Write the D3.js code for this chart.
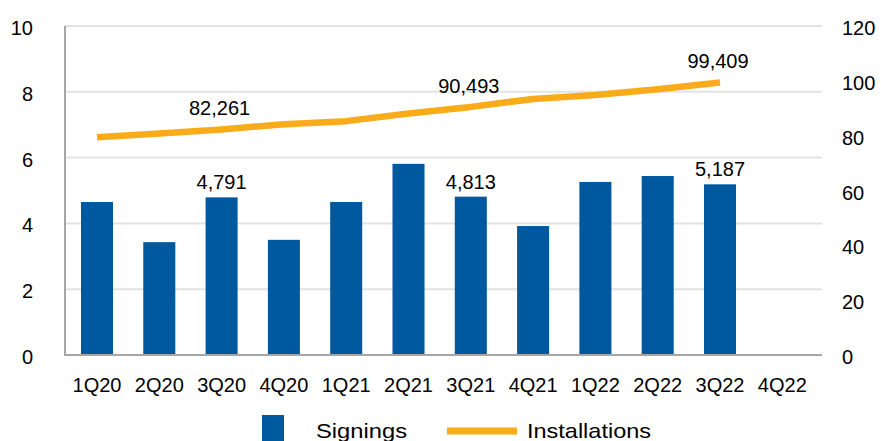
<!DOCTYPE html>
<html>
<head>
<meta charset="utf-8">
<script src="https://cdn.jsdelivr.net/npm/d3@7"></script>
<style>
  html, body { margin: 0; padding: 0; background: #fff; }
  svg { display: block; font-family: "Liberation Sans", Arial, sans-serif; }
</style>
</head>
<body>
<svg id="chart" width="881" height="441"></svg>
<script>
const categories = ["1Q20","2Q20","3Q20","4Q20","1Q21","2Q21","3Q21","4Q21","1Q22","2Q22","3Q22","4Q22"];
const signings = [4.65, 3.43, 4.791, 3.50, 4.65, 5.81, 4.813, 3.92, 5.26, 5.44, 5.187, null];
const installations = [79.4, 80.8, 82.261, 84.2, 85.3, 88.1, 90.493, 93.4, 94.8, 96.9, 99.409, null];
const leftTicks = [0, 2, 4, 6, 8, 10];
const rightTicks = [0, 20, 40, 60, 80, 100, 120];
const signingLabels = {"3Q20": "4,791", "3Q21": "4,813", "3Q22": "5,187"};
const installLabels = {"3Q20": "82,261", "3Q21": "90,493", "3Q22": "99,409"};
const seriesNames = ["Signings", "Installations"];

const svg = d3.select("#chart");
const blue = "#00589E", orange = "#FAAB1A";
const plotLeft = 65.85, plotRight = 813.45, gridRight = 822;
const yTop = 26, yBottom = 355;

const x = d3.scaleBand().domain(categories).range([plotLeft, plotRight])
  .paddingInner(0.486).paddingOuter(0.243);
const yL = d3.scaleLinear().domain([0, 10]).range([yBottom, yTop]);
const yR = d3.scaleLinear().domain([0, 120]).range([yBottom, yTop]);

// gridlines
svg.append("g").selectAll("line").data(leftTicks.filter(d => d > 0)).join("line")
  .attr("x1", 65).attr("x2", gridRight)
  .attr("y1", d => yL(d)).attr("y2", d => yL(d))
  .attr("stroke", "#e3e3e3").attr("stroke-width", 2);

// bars
const barData = categories.map((c, i) => ({c, v: signings[i]})).filter(d => d.v != null);
svg.append("g").selectAll("rect").data(barData).join("rect")
  .attr("x", d => x(d.c)).attr("width", x.bandwidth())
  .attr("y", d => yL(d.v)).attr("height", d => yBottom - yL(d.v))
  .attr("fill", blue);

// axes lines
svg.append("line").attr("x1", 65).attr("x2", 65).attr("y1", yTop).attr("y2", yBottom + 1)
  .attr("stroke", "#a6a6a6").attr("stroke-width", 2);
svg.append("line").attr("x1", 64).attr("x2", gridRight).attr("y1", yBottom).attr("y2", yBottom)
  .attr("stroke", "#a6a6a6").attr("stroke-width", 2);

// line
const lineData = categories.map((c, i) => ({c, v: installations[i]})).filter(d => d.v != null);
const line = d3.line().x(d => x(d.c) + x.bandwidth() / 2).y(d => yR(d.v));
svg.append("path").datum(lineData).attr("d", line)
  .attr("fill", "none").attr("stroke", orange).attr("stroke-width", 6.5)
  .attr("stroke-linejoin", "round");

// left axis labels
svg.append("g").selectAll("text").data(leftTicks).join("text")
  .attr("x", 33).attr("y", d => yL(d) + 9)
  .attr("text-anchor", "end").attr("font-size", 20).attr("fill", "#000")
  .text(d => d);

// right axis labels
svg.append("g").selectAll("text").data(rightTicks).join("text")
  .attr("x", 842).attr("y", d => yR(d) + 9)
  .attr("text-anchor", "start").attr("font-size", 20).attr("fill", "#000")
  .text(d => d);

// x labels
svg.append("g").selectAll("text").data(categories).join("text")
  .attr("x", d => x(d) + x.bandwidth() / 2).attr("y", 392)
  .attr("text-anchor", "middle").attr("font-size", 20).attr("fill", "#000")
  .text(d => d);

// data labels
svg.append("g").selectAll("text").data(barData.filter(d => signingLabels[d.c])).join("text")
  .attr("x", d => x(d.c) + x.bandwidth() / 2).attr("y", d => yL(d.v) - 8)
  .attr("text-anchor", "middle").attr("font-size", 20).attr("fill", "#000")
  .text(d => signingLabels[d.c]);
svg.append("g").selectAll("text").data(lineData.filter(d => installLabels[d.c])).join("text")
  .attr("x", d => x(d.c) + x.bandwidth() / 2 - 2).attr("y", d => yR(d.v) - 14)
  .attr("text-anchor", "middle").attr("font-size", 20).attr("fill", "#000")
  .text(d => installLabels[d.c]);

// legend
const lg = svg.append("g");
lg.append("rect").attr("x", 262).attr("y", 415).attr("width", 22).attr("height", 26).attr("fill", blue);
lg.append("text").attr("x", 316).attr("y", 438).attr("font-size", 21).attr("fill", "#000")
  .attr("textLength", 91).attr("lengthAdjust", "spacingAndGlyphs").text(seriesNames[0]);
lg.append("line").attr("x1", 447).attr("x2", 517).attr("y1", 431).attr("y2", 431)
  .attr("stroke", orange).attr("stroke-width", 7);
lg.append("text").attr("x", 527).attr("y", 438).attr("font-size", 21).attr("fill", "#000")
  .attr("textLength", 124).attr("lengthAdjust", "spacingAndGlyphs").text(seriesNames[1]);
</script>
</body>
</html>
